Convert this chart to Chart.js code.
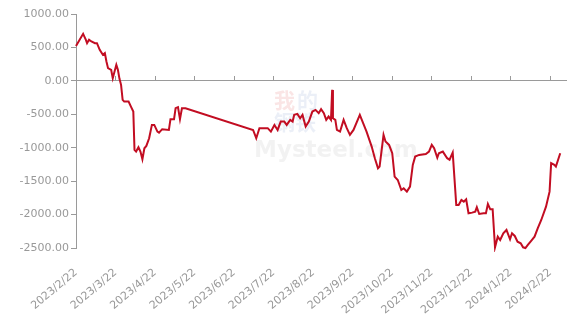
<!DOCTYPE html>
<html>
<head>
<meta charset="utf-8">
<script src="https://cdn.jsdelivr.net/npm/chart.js@4/dist/chart.umd.min.js"></script>
<style>
  html, body { margin: 0; padding: 0; background: #fff; }
  #wrap { width: 577px; height: 319px; position: relative; }
</style>
</head>
<body>
<div id="wrap"><canvas id="chart"></canvas></div>
<script>
// x positions in months after 2023/2/22
const monthPos = [
  0.00, 0.18, 0.25, 0.28, 0.33, 0.39, 0.48, 0.53, 0.60, 0.68, 0.73, 0.77, 0.81, 0.89, 0.93,
  1.02, 1.06, 1.10, 1.14, 1.18, 1.22, 1.33, 1.39, 1.45, 1.48, 1.52, 1.58, 1.63, 1.68, 1.73,
  1.78, 1.85, 1.92, 1.98, 2.06, 2.10, 2.18, 2.35, 2.39, 2.48, 2.52, 2.58, 2.63, 2.68, 2.77,
  4.48, 4.56, 4.64, 4.77, 4.85, 4.93, 5.02, 5.10, 5.18, 5.27, 5.33, 5.42, 5.48, 5.52, 5.60,
  5.67, 5.73, 5.81, 5.89, 5.98, 6.06, 6.14, 6.20, 6.27, 6.33, 6.39, 6.45, 6.48, 6.50, 6.56,
  6.60, 6.68, 6.77, 6.85, 6.93, 7.02, 7.18, 7.35, 7.48, 7.56, 7.64, 7.68, 7.78, 7.83, 7.92,
  8.00, 8.06, 8.14, 8.23, 8.29, 8.37, 8.45, 8.52, 8.58, 8.68, 8.85, 8.93, 9.00, 9.06, 9.14,
  9.18, 9.28, 9.39, 9.45, 9.53, 9.62, 9.68, 9.75, 9.81, 9.87, 9.93, 10.02, 10.10, 10.14, 10.20,
  10.31, 10.37, 10.42, 10.48, 10.54, 10.60, 10.67, 10.73, 10.81, 10.89, 10.98, 11.03, 11.10, 11.17, 11.25,
  11.31, 11.37, 11.43, 11.52, 11.60, 11.68, 11.77, 11.89, 11.98, 12.02, 12.10, 12.14, 12.25
];
const values = [
  520, 703, 614, 564, 614, 589, 564, 564, 464, 389, 414, 289, 190, 165, 40,
  240, 165, 30, -60, -284, -310, -310, -385, -460, -1033, -1058, -993, -1058, -1172, -1008,
  -973, -858, -659, -659, -759, -774, -723, -734, -573, -573, -409, -394, -573, -409, -409,
  -734, -858, -708, -708, -708, -759, -659, -734, -609, -609, -659, -584, -609, -509, -494,
  -559, -509, -684, -609, -459, -434, -484, -424, -484, -584, -534, -584, -135, -559, -584,
  -734, -759, -584, -708, -808, -734, -509, -759, -983, -1157, -1307, -1282, -808, -908, -958,
  -1083, -1432, -1482, -1632, -1607, -1657, -1582, -1257, -1133, -1108, -1093, -1058, -958, -1008, -1150,
  -1083, -1058, -1157, -1180, -1073, -1856, -1856, -1781, -1806, -1771, -1980, -1971, -1956, -1891, -1991,
  -1980, -1980, -1841, -1921, -1921, -2490, -2330, -2380, -2280, -2230, -2370, -2280, -2320, -2405, -2430,
  -2490, -2500, -2455, -2390, -2330, -2205, -2081, -1881, -1657, -1232, -1257, -1282, -1083
];
const tickLabels = [
  '2023/2/22', '2023/3/22', '2023/4/22', '2023/5/22', '2023/6/22', '2023/7/22', '2023/8/22',
  '2023/9/22', '2023/10/22', '2023/11/22', '2023/12/22', '2024/1/22', '2024/2/22'
];

const axisGray = '#9a9a9a';
const labelGray = '#999';
const font = { family: 'DejaVu Sans', size: 11 };

// faint site watermark behind the line
const watermark = {
  id: 'watermark',
  beforeDatasetsDraw(chart) {
    const ctx = chart.ctx;
    ctx.save();
    ctx.textBaseline = 'alphabetic';
    ctx.font = 'bold 21px "Noto Sans CJK SC"';
    ctx.fillStyle = 'rgba(220,70,70,0.14)';
    ctx.fillText('我', 274, 108);
    ctx.fillStyle = 'rgba(90,120,190,0.12)';
    ctx.fillText('的', 297, 108);
    ctx.fillText('钢铁', 274, 130);
    ctx.font = 'bold 23px "DejaVu Sans"';
    ctx.fillStyle = 'rgba(150,150,150,0.12)';
    ctx.fillText('Mysteel.com', 254, 157);
    ctx.restore();
  }
};

new Chart(document.getElementById('chart'), {
  type: 'line',
  data: {
    datasets: [{
      data: monthPos.map((x, i) => ({ x, y: values[i] })),
      borderColor: '#c20d22',
      borderWidth: 2,
      pointRadius: 0,
      tension: 0,
      fill: false,
      clip: 4
    }]
  },
  options: {
    responsive: true,
    maintainAspectRatio: false,
    animation: false,
    layout: { padding: { top: 14, right: 5, left: 0, bottom: 0 } },
    plugins: { legend: { display: false }, tooltip: { enabled: false } },
    scales: {
      x: {
        type: 'linear',
        position: 'bottom',
        min: 0,
        max: 12.4,
        grid: { display: false, drawTicks: false },
        border: { display: false },
        ticks: {
          stepSize: 1,
          includeBounds: false,
          autoSkip: false,
          minRotation: 40,
          maxRotation: 40,
          padding: 18,
          color: labelGray,
          font,
          callback: v => tickLabels[v] ?? ''
        },
        afterFit: s => { s.height = 71; }
      },
      xZero: {
        type: 'linear',
        position: { y: 0 },
        min: 0,
        max: 12.4,
        grid: { drawOnChartArea: false, drawTicks: true, tickLength: -5, color: axisGray },
        border: { display: true, color: axisGray },
        ticks: { display: false, stepSize: 1, includeBounds: false }
      },
      y: {
        min: -2500,
        max: 1000,
        grid: { drawOnChartArea: false, drawTicks: true, tickLength: 5, color: axisGray },
        border: { display: true, color: axisGray },
        ticks: {
          stepSize: 500,
          padding: 2,
          color: labelGray,
          font,
          callback: v => v.toFixed(2)
        },
        afterFit: s => { s.width = 76; }
      }
    }
  },
  plugins: [watermark]
});
</script>
</body>
</html>
